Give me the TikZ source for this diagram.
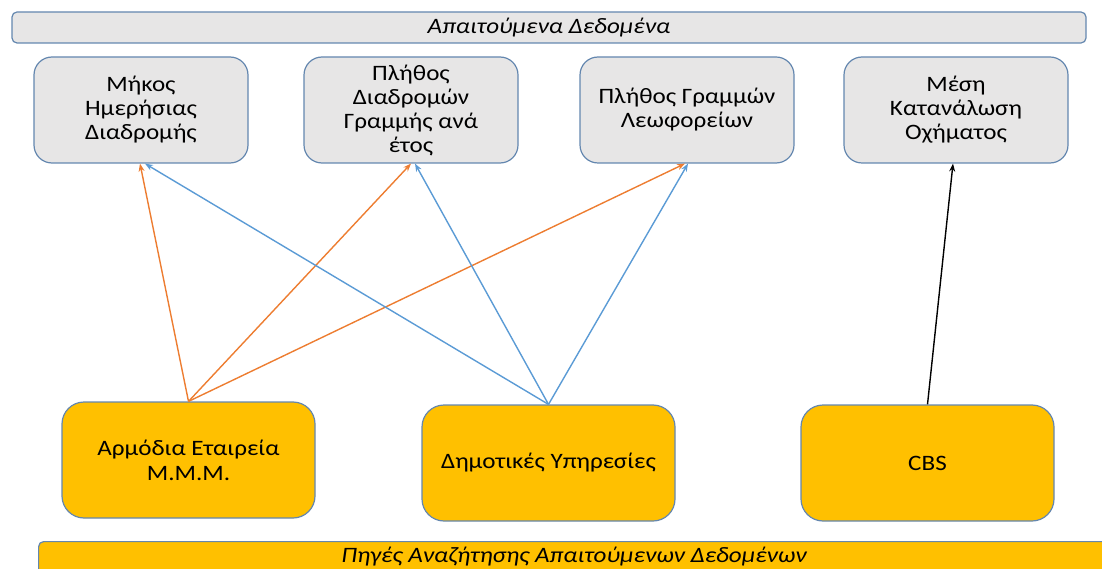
\documentclass[tikz,border=0pt]{standalone}
\usepackage{fontspec}
\setmainfont{Carlito}[FakeStretch=1.14]
\usetikzlibrary{arrows.meta}
\definecolor{topfill}{RGB}{231,230,230}
\definecolor{edge}{RGB}{100,135,175}
\definecolor{gold}{RGB}{255,192,0}
\definecolor{orng}{RGB}{237,125,49}
\definecolor{blu}{RGB}{91,155,213}
\tikzset{
  x=1pt, y=-1pt,
  banner/.style={draw=edge, line width=1.2pt, rounded corners=5pt, inner sep=0pt},
  bannertext/.style={font=\fontsize{22}{24}\selectfont\itshape},
  topbox/.style={draw=edge, fill=topfill, line width=1.2pt, rounded corners=18pt, minimum width=214pt, minimum height=106pt, align=center, inner sep=0pt, font=\fontsize{22}{24}\selectfont},
  srcbox/.style={draw=edge, fill=gold, line width=1.2pt, rounded corners=22pt, minimum width=253pt, minimum height=116pt, align=center, inner sep=0pt, font=\fontsize{22}{25}\selectfont},
  link/.style={line width=1.4pt, -{Stealth[length=8pt,width=6pt]}},
}
\begin{document}
\begin{tikzpicture}
\useasboundingbox (0,0) rectangle (1102,569);
\clip (0,0) rectangle (1102,569);
\node[banner, fill=topfill, minimum width=1074pt, minimum height=31pt] (top) at (549,27.5) {};
\node[bannertext] (toptxt) at (549,28) {Απαιτούμενα Δεδομένα};
\node[banner, fill=gold, minimum width=1100pt, minimum height=40pt, anchor=north west] (bot) at (38,541) {};
\node[bannertext] (bottxt) at (574,557) {Πηγές Αναζήτησης Απαιτούμενων Δεδομένων};

\node[topbox] (m1) at (141,110) {Μήκος\\Ημερήσιας\\Διαδρομής};
\node[topbox] (m2) at (411,110) {Πλήθος\\Διαδρομών\\Γραμμής ανά\\έτος};
\node[topbox] (m3) at (687,110) {Πλήθος Γραμμών\\Λεωφορείων};
\node[topbox, minimum width=224pt] (m4) at (956,110) {Μέση\\Κατανάλωση\\Οχήματος};

\node[srcbox] (a) at (188.5,460) {Αρμόδια Εταιρεία\\Μ.Μ.Μ.};
\node[srcbox] (b) at (548.5,463) {Δημοτικές Υπηρεσίες};
\node[srcbox] (c) at (927.5,463) {CBS};

\draw[link, draw=orng] (a.north) -- ([xshift=-1pt]m1.south);
\draw[link, draw=orng] (a.north) -- ([xshift=0pt]m2.south);
\draw[link, draw=orng] (a.north) -- ([xshift=-2pt]m3.south);
\draw[link, draw=blu] (b.north) -- ([xshift=4pt]m1.south);
\draw[link, draw=blu] (b.north) -- ([xshift=4pt]m2.south);
\draw[link, draw=blu] (b.north) -- ([xshift=1pt]m3.south);
\draw[link, draw=black] (c.north) -- ([xshift=-3pt]m4.south);
\end{tikzpicture}
\end{document}
